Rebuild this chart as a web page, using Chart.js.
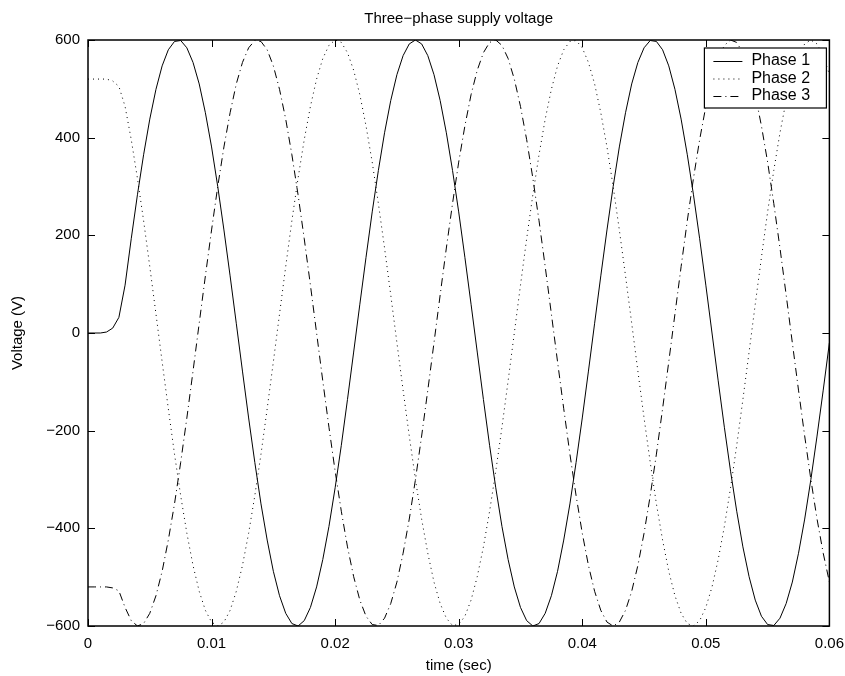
<!DOCTYPE html>
<html>
<head>
<meta charset="utf-8">
<script src="https://cdn.jsdelivr.net/npm/chart.js@4.4.1/dist/chart.umd.min.js"></script>
<style>
  body { margin: 0; background: #fff; }
  #wrap { width: 845px; height: 676px; }
</style>
</head>
<body>
<div id="wrap"><canvas id="chart" width="845" height="676"></canvas></div>
<script>
// sample times in milliseconds
var timeMs = [
  0, 0.5, 1, 1.5, 2, 2.5, 3, 3.5, 4, 4.5, 5, 5.5, 6, 6.5, 7, 7.5, 8, 8.5, 9, 9.5,
  10, 10.5, 11, 11.5, 12, 12.5, 13, 13.5, 14, 14.5, 15, 15.5, 16, 16.5, 17, 17.5, 18, 18.5, 19, 19.5,
  20, 20.5, 21, 21.5, 22, 22.5, 23, 23.5, 24, 24.5, 25, 25.5, 26, 26.5, 27, 27.5, 28, 28.5, 29, 29.5,
  30, 30.5, 31, 31.5, 32, 32.5, 33, 33.5, 34, 34.5, 35, 35.5, 36, 36.5, 37, 37.5, 38, 38.5, 39, 39.5,
  40, 40.5, 41, 41.5, 42, 42.5, 43, 43.5, 44, 44.5, 45, 45.5, 46, 46.5, 47, 47.5, 48, 48.5, 49, 49.5,
  50, 50.5, 51, 51.5, 52, 52.5, 53, 53.5, 54, 54.5, 55, 55.5, 56, 56.5, 57, 57.5, 58, 58.5, 59, 59.5,
  60
];

// voltages (V)
var phase1 = [
  0, 0, 0, 2, 10,
  32, 98, 193, 283, 365, 438, 499, 547, 580, 597,
  599, 584, 554, 510, 451, 381, 300, 211, 117, 20,
  -78, -174, -265, -350, -424, -488, -538, -574, -595, -600,
  -589, -562, -520, -464, -396, -317, -230, -136, -39, 59,
  155, 248, 333, 410, 476, 529, 568, 592, 600, 592,
  568, 529, 476, 410, 333, 248, 155, 59, -39, -136,
  -230, -317, -396, -464, -520, -562, -589, -600, -595, -574,
  -538, -488, -424, -350, -265, -174, -78, 20, 117, 211,
  300, 381, 451, 510, 554, 584, 599, 597, 580, 547,
  499, 438, 365, 283, 193, 98, 0, -98, -193, -283,
  -365, -438, -499, -547, -580, -597, -599, -584, -554, -510,
  -451, -381, -300, -211, -117, -20
];
var phase2 = [
  520, 520, 520, 520, 516,
  505, 464, 396, 317, 230, 136, 39, -59, -155, -248,
  -333, -410, -476, -529, -568, -592, -600, -592, -568, -529,
  -476, -410, -333, -248, -155, -59, 39, 136, 230, 317,
  396, 464, 520, 562, 589, 600, 595, 574, 538, 488,
  424, 350, 265, 174, 78, -20, -117, -211, -300, -381,
  -451, -510, -554, -584, -599, -597, -580, -547, -499, -438,
  -365, -283, -193, -98, 0, 98, 193, 283, 365, 438,
  499, 547, 580, 597, 599, 584, 554, 510, 451, 381,
  300, 211, 117, 20, -78, -174, -265, -350, -424, -488,
  -538, -574, -595, -600, -589, -562, -520, -464, -396, -317,
  -230, -136, -39, 59, 155, 248, 333, 410, 476, 529,
  568, 592, 600, 592, 568, 529
];
var phase3 = [
  -520, -520, -520, -520, -522,
  -528, -562, -589, -600, -595, -574, -538, -488, -424, -350,
  -265, -174, -78, 20, 117, 211, 300, 381, 451, 510,
  554, 584, 599, 597, 580, 547, 499, 438, 365, 283,
  193, 98, 0, -98, -193, -283, -365, -438, -499, -547,
  -580, -597, -599, -584, -554, -510, -451, -381, -300, -211,
  -117, -20, 78, 174, 265, 350, 424, 488, 538, 574,
  595, 600, 589, 562, 520, 464, 396, 317, 230, 136,
  39, -59, -155, -248, -333, -410, -476, -529, -568, -592,
  -600, -592, -568, -529, -476, -410, -333, -248, -155, -59,
  39, 136, 230, 317, 396, 464, 520, 562, 589, 600,
  595, 574, 538, 488, 424, 350, 265, 174, 78, -20,
  -117, -211, -300, -381, -451, -510
];

var seriesNames = ["Phase 1", "Phase 2", "Phase 3"];
var xTicks = [0, 0.01, 0.02, 0.03, 0.04, 0.05, 0.06];
var yTicks = [-600, -400, -200, 0, 200, 400, 600];

var dashes = [[], [1, 4], [8, 4, 1, 4]];

var toPoints = function(values) {
  return values.map(function(v, i) {
    return { x: timeMs[i] / 1000, y: v };
  });
};

var minus = function(s) {
  return String(s).replace('-', '\u2212');
};

// MATLAB-style box, inward ticks and boxed legend
var boxPlugin = {
  id: 'boxPlugin',
  afterDatasetsDraw: function(chart) {
    var ctx = chart.ctx;
    var a = chart.chartArea;
    var xs = chart.scales.x, ys = chart.scales.y;
    var tl = 7;
    ctx.save();
    ctx.strokeStyle = '#000';
    ctx.lineWidth = 1;
    ctx.beginPath();
    xTicks.forEach(function(t) {
      var px = Math.round(xs.getPixelForValue(t)) + 0.5;
      ctx.moveTo(px, a.bottom); ctx.lineTo(px, a.bottom - tl);
      ctx.moveTo(px, a.top); ctx.lineTo(px, a.top + tl);
    });
    yTicks.forEach(function(t) {
      var py = Math.round(ys.getPixelForValue(t)) + 0.5;
      ctx.moveTo(a.left, py); ctx.lineTo(a.left + tl, py);
      ctx.moveTo(a.right, py); ctx.lineTo(a.right - tl, py);
    });
    ctx.stroke();
    ctx.lineWidth = 1.5;
    ctx.strokeRect(a.left, a.top, a.right - a.left, a.bottom - a.top);

    // legend
    var bx = a.right - 125, by = a.top + 8, bw = 122, bh = 60;
    ctx.fillStyle = '#fff';
    ctx.fillRect(bx, by, bw, bh);
    ctx.lineWidth = 1.2;
    ctx.strokeRect(bx, by, bw, bh);
    ctx.font = '16px "Liberation Sans", Arial, sans-serif';
    ctx.textBaseline = 'middle';
    ctx.textAlign = 'left';
    ctx.fillStyle = '#000';
    seriesNames.forEach(function(name, i) {
      var ry = by + 13 + i * 17.5;
      ctx.save();
      ctx.lineWidth = 1;
      ctx.setLineDash(dashes[i]);
      ctx.beginPath();
      ctx.moveTo(bx + 9, ry + 0.5);
      ctx.lineTo(bx + 38, ry + 0.5);
      ctx.stroke();
      ctx.restore();
      ctx.fillText(name, bx + 47, ry);
    });
    ctx.restore();
  }
};

Chart.defaults.font.family = '"Liberation Sans", Arial, sans-serif';
Chart.defaults.font.size = 15;
Chart.defaults.color = '#000';

var chart = new Chart(document.getElementById('chart'), {
  type: 'line',
  data: {
    datasets: seriesNames.map(function(name, i) {
      return {
        label: name,
        data: toPoints([phase1, phase2, phase3][i]),
        borderColor: '#000',
        borderWidth: 1,
        borderDash: dashes[i],
        pointRadius: 0,
        tension: 0,
        fill: false
      };
    })
  },
  options: {
    responsive: false,
    animation: false,
    events: [],
    layout: { padding: { left: 0, right: 11, top: 0, bottom: 0 } },
    plugins: {
      legend: { display: false },
      tooltip: { enabled: false },
      title: {
        display: true,
        fullSize: false,
        text: 'Three\u2212phase supply voltage',
        font: { size: 15, weight: 'normal' },
        color: '#000',
        padding: { top: 10, bottom: 12 }
      }
    },
    scales: {
      x: {
        type: 'linear',
        min: 0,
        max: 0.06,
        afterBuildTicks: function(scale) {
          scale.ticks = xTicks.map(function(v) { return { value: v }; });
        },
        afterFit: function(scale) { scale.height = 50; },
        grid: { display: false },
        border: { display: false },
        ticks: {
          padding: 1,
          maxRotation: 0,
          callback: function(v) { return v === 0 ? '0' : v.toFixed(2); }
        },
        title: {
          display: true,
          text: 'time (sec)',
          padding: { top: 0, bottom: 1 }
        }
      },
      y: {
        min: -600,
        max: 600,
        afterBuildTicks: function(scale) {
          scale.ticks = yTicks.map(function(v) { return { value: v }; });
        },
        afterFit: function(scale) { scale.width = 88; },
        grid: { display: false },
        border: { display: false },
        ticks: {
          padding: 0,
          callback: function(v) { return minus(v); }
        },
        title: {
          display: true,
          text: 'Voltage (V)',
          padding: { top: 9, bottom: 0 }
        }
      }
    }
  },
  plugins: [boxPlugin]
});
</script>
</body>
</html>
